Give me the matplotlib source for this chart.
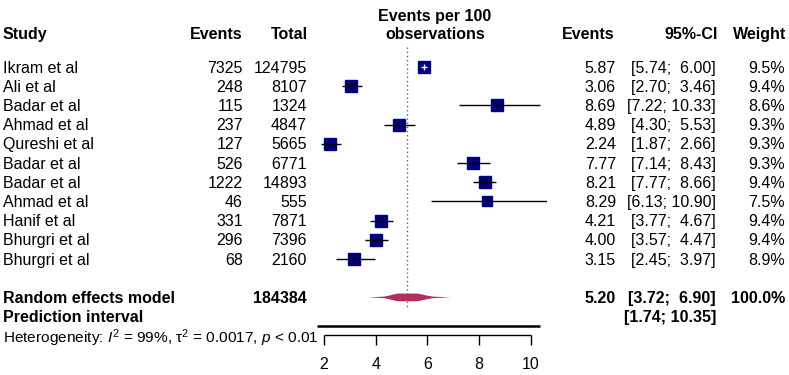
import numpy as np
import matplotlib.pyplot as plt

plt.rcParams['font.family'] = 'Liberation Sans'
plt.rcParams['mathtext.fontset'] = 'custom'
plt.rcParams['mathtext.rm'] = 'Liberation Sans'
plt.rcParams['mathtext.it'] = 'Liberation Sans:italic'

# data
studies = ["Ikram et al", "Ali et al", "Badar et al", "Ahmad et al", "Qureshi et al",
           "Badar et al", "Badar et al", "Ahmad et al", "Hanif et al", "Bhurgri et al",
           "Bhurgri et al"]
events = [7325, 248, 115, 237, 127, 526, 1222, 46, 331, 296, 68]
totals = [124795, 8107, 1324, 4847, 5665, 6771, 14893, 555, 7871, 7396, 2160]
est = [5.87, 3.06, 8.69, 4.89, 2.24, 7.77, 8.21, 8.29, 4.21, 4.00, 3.15]
lower = [5.74, 2.70, 7.22, 4.30, 1.87, 7.14, 7.77, 6.13, 3.77, 3.57, 2.45]
upper = [6.00, 3.46, 10.33, 5.53, 2.66, 8.43, 8.66, 10.90, 4.67, 4.47, 3.97]
weights = [9.5, 9.4, 8.6, 9.3, 9.3, 9.3, 9.4, 7.5, 9.4, 9.4, 8.9]

re_total = 184384
re_est, re_lo, re_up = 5.20, 3.72, 6.90
pi_lo, pi_up = 1.74, 10.35
xticks = [2, 4, 6, 8, 10]

W, H = 789, 375
row0, rowh = 67, 19.2          # pixel centre of first row, row spacing
ylim = ((H - row0) / rowh, -row0 / rowh)
FS = 11.5
BASE = 0.29                    # baseline offset (rows) from row centre

fig = plt.figure(figsize=(W / 100, H / 100), dpi=100)

# text layer, x in pixels, y in rows
tx = fig.add_axes([0, 0, 1, 1])
tx.set_xlim(0, W)
tx.set_ylim(*ylim)
tx.axis('off')

# forest layer, x in data units
px_per_unit = (531 - 324) / 8
xl = 1.5
xr = xl + (546.5 - 311.06) / px_per_unit
ax = fig.add_axes([(324 - (2 - xl) * px_per_unit) / W, 0, (xr - xl) * px_per_unit / W, 1])
ax.set_xlim(xl, xr)
ax.set_ylim(*ylim)
ax.axis('off')

def put(x, r, s, ha='left', bold=False, size=FS):
    tx.text(x, r + BASE, s, ha=ha, va='baseline', fontsize=size,
            fontweight='bold' if bold else 'normal', color='black')

# header
hr = -1.73
put(3, hr, "Study", bold=True)
put(243, hr, "Events", ha='right', bold=True)
put(308, hr, "Total", ha='right', bold=True)
put(435, hr - 0.93, "Events per 100", ha='center', bold=True)
put(435, hr, "observations", ha='center', bold=True)
put(615, hr, "Events", ha='right', bold=True)
put(718, hr, "95%-CI", ha='right', bold=True)
put(786, hr, "Weight", ha='right', bold=True)

def ci_txt(lo, up):
    return f"[{lo:.2f}; {up:5.2f}]"

for i, s in enumerate(studies):
    put(3, i, s)
    put(243, i, str(events[i]), ha='right')
    put(307, i, str(totals[i]), ha='right')
    put(616, i, f"{est[i]:.2f}", ha='right')
    put(716, i, ci_txt(lower[i], upper[i]), ha='right')
    put(785, i, f"{weights[i]:.1f}%", ha='right')

    side = 12 * np.sqrt(weights[i] / 9.5)
    ax.plot(est[i], i, marker='s', ms=side * 0.72, color='#000080', mec='#000080', zorder=3)
    inside = (upper[i] - lower[i]) * px_per_unit < side
    lc = 'white' if inside else 'black'
    ax.hlines(i, lower[i], upper[i], color=lc, lw=1.0, zorder=4)
    ax.plot(est[i], i, marker='|', ms=4, mew=1, color=lc, zorder=4)

re_row, pi_row, het_row = 12, 13, 14.06
put(3, re_row, "Random effects model", bold=True)
put(307, re_row, str(re_total), ha='right', bold=True)
put(616, re_row, f"{re_est:.2f}", ha='right', bold=True)
put(716, re_row, ci_txt(re_lo, re_up), ha='right', bold=True)
put(785, re_row, "100.0%", ha='right', bold=True)
put(3, pi_row, "Prediction interval", bold=True)
put(716, pi_row, ci_txt(pi_lo, pi_up), ha='right', bold=True)
put(3, het_row, r"Heterogeneity: $I^2$ = 99%, $\mathrm{\tau}^2$ = 0.0017, $p$ < 0.01", size=11.1)

# reference line at pooled estimate
ax.vlines(re_est, -1.05, re_row + 0.5, color='#606060', ls=(0, (1, 2)), lw=1, zorder=1)

# pooled diamond (long thin diamond with a thicker core)
col_d = '#B03060'
ax.fill([re_lo, re_est, re_up, re_est], [re_row, re_row - 0.1, re_row, re_row + 0.1],
        color=col_d, lw=0, zorder=3)
a = re_est - 0.65 * (re_est - re_lo)
b = re_est + 0.65 * (re_up - re_est)
c = re_est - 0.25 * (re_est - re_lo)
d = re_est + 0.25 * (re_up - re_est)
ax.fill([a, c, d, b, d, c], [re_row, re_row - 0.2, re_row - 0.2, re_row, re_row + 0.2, re_row + 0.2],
        color=col_d, lw=0, zorder=3)

# prediction interval
ax.hlines(pi_row + 0.48, pi_lo, pi_up, color='black', lw=1.8, clip_on=False)

# x axis
axis_row = 13.98
ax.hlines(axis_row, xticks[0], xticks[-1], color='black', lw=1)
ax.vlines(xticks, axis_row, axis_row + 0.48, color='black', lw=1)
for t in xticks:
    ax.text(t, 15.5, str(t), ha='center', va='center', fontsize=FS)

fig.savefig('out.png', dpi=100)
